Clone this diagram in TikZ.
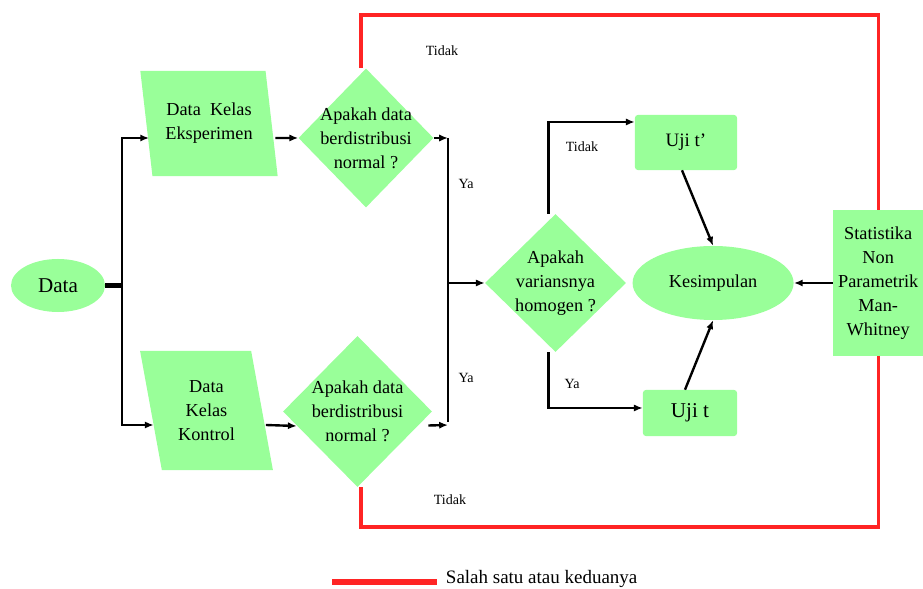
\documentclass[tikz,border=0pt]{standalone}
\usepackage{fontspec}
\setmainfont{Liberation Serif}
\usetikzlibrary{arrows.meta, positioning, shapes.geometric, calc}
\definecolor{lightgreen}{RGB}{153,255,153}
\definecolor{brightred}{RGB}{255,36,36}

\begin{document}
\begin{tikzpicture}[
    x=0.025cm, y=-0.025cm,
    every node/.style={font=\fontsize{13}{17}\selectfont},
    terminal/.style={ellipse, fill=lightgreen, inner sep=0pt, align=center},
    io/.style={trapezium, trapezium left angle=103, trapezium right angle=77,
               trapezium stretches=true, fill=lightgreen, inner sep=0pt, align=center},
    decision/.style={diamond, fill=lightgreen, inner sep=-6pt, align=center},
    box/.style={rectangle, fill=lightgreen, rounded corners=2pt, align=center},
    note/.style={font=\fontsize{10}{12}\selectfont},
    arrow/.style={-{Latex[length=2.2mm, width=1.8mm]}, line width=1.7pt},
    link/.style={line width=1.7pt},
    redline/.style={draw=brightred, line width=2.2pt}
]
\useasboundingbox (0,0) rectangle (923,589);

% input and the two classes
\node[terminal, minimum width=2.35cm, minimum height=1.325cm,
      font=\fontsize{15}{18}\selectfont] (data) at (58,285.5) {Data};
\node[io, minimum width=3.45cm, minimum height=2.625cm] (eks) at (209,123.5) {Data\ \ Kelas\\Eksperimen};
\node[io, minimum width=3.325cm, minimum height=2.975cm] (kon) at (206.5,410.5) {Data\\Kelas\\Kontrol};

% normality tests
\node[decision, minimum width=3.375cm, minimum height=3.475cm] (dn1) at (366,138) {Apakah data\\berdistribusi\\normal ?};
\node[decision, minimum width=3.725cm, minimum height=3.775cm] (dn2) at (357.5,411.5) {Apakah data\\berdistribusi\\normal ?};

% homogeneity and the tests
\node[decision, minimum width=3.525cm, minimum height=3.45cm] (dn3) at (555.5,283) {Apakah\\variansnya\\homogen ?};
\node[terminal, right=0.15cm of dn3, minimum width=4.025cm, minimum height=1.85cm] (kes) {Kesimpulan};
\node[box, right=0.975cm of kes, minimum width=2.25cm, minimum height=3.65cm,
      rounded corners=0pt] (stat) {Statistika\\Non\\Parametrik\\Man-\\Whitney};
\node[box, minimum width=2.55cm, minimum height=1.375cm,
      font=\fontsize{13.5}{16}\selectfont] (ujitp) at (686,142.5) {Uji t’};
\node[box, minimum width=2.35cm, minimum height=1.15cm,
      font=\fontsize{15}{18}\selectfont] (ujit) at (690,413) {Uji t};

% split from data
\coordinate (split) at (122,285.5);
\draw[line width=3.5pt] (data.east) -- (split);
\draw[arrow] (split) |- ($(eks.west)+(3,14.5)$);
\draw[arrow] (split) |- ($(kon.west)+(3,14.5)$);
\draw[arrow] ($(eks.east)+(3.5,14.5)$) -- (dn1.west);
\draw[arrow] ($(kon.east)+(3.5,14.5)$) -- ($(dn2.west)+(14,14.5)$);

% both normal
\coordinate (merge) at (448,283);
\draw[arrow] (dn1.east) -- (dn1.east -| merge);
\draw[link] (dn1.east -| merge) -- ($(merge)+(0,139)$);
\draw[arrow] ($(dn2.east)+(-4,14)$) -- ($(merge)+(0,142)$);
\draw[arrow] (merge) -- (dn3.west);

\draw[arrow] ($(dn3.north)+(-7,0)$) |- ($(ujitp.west)+(0,-20.5)$);
\draw[arrow] ($(dn3.south)+(-7,0)$) |- ($(ujit.west)+(0,-5)$);
\draw[arrow] ($(ujitp.south)+(-4,0)$) -- (kes.north);
\draw[arrow] ($(ujit.north)+(-5,0)$) -- (kes.south);
\draw[arrow] (stat.west) -- (kes.east);

% not normal -> non parametric
\coordinate (top) at (0,15);
\coordinate (bottom) at (0,527);
\draw[redline] ($(dn1.north)+(-5,0)$) |- (top -| stat.north) -- (stat.north);
\draw[redline] ($(dn2.south)+(3.5,0)$) |- (bottom -| stat.south) -- (stat.south);

\node[note] (tidak1) at (442,51) {Tidak};
\node[note] (tidak2) at (450,500) {Tidak};
\node[note] (tidak3) at (582,147) {Tidak};
\node[note] (ya1) at (466,184) {Ya};
\node[note] (ya2) at (466,378) {Ya};
\node[note] (ya3) at (572,384) {Ya};

% legend
\coordinate (legA) at (332,582);
\coordinate (legB) at (437,582);
\draw[redline, line width=4.5pt] (legA) -- (legB);
\node[right=0.1cm of legB, yshift=0.07cm, font=\fontsize{13.5}{16}\selectfont] (legtext) {Salah satu atau keduanya};

\end{tikzpicture}
\end{document}
